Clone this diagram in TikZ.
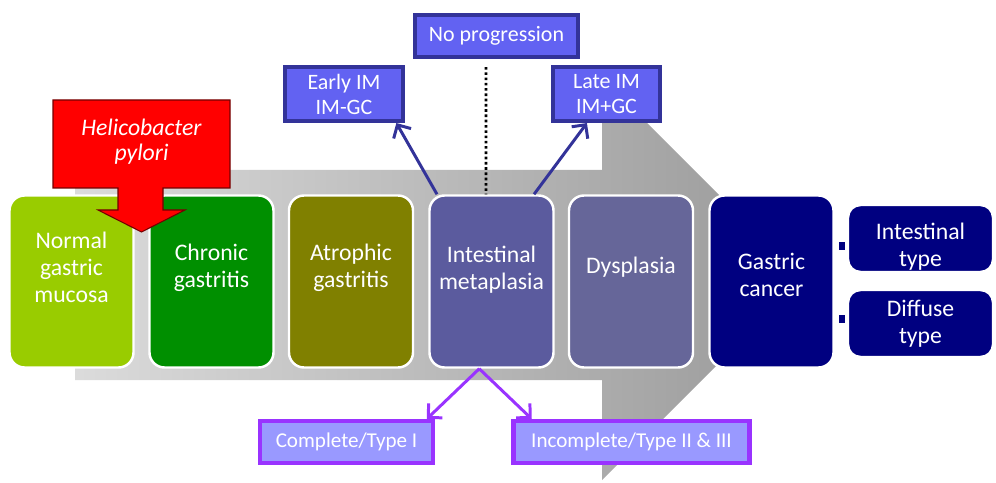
\documentclass[tikz,border=0pt]{standalone}
\usepackage{fontspec}
\setmainfont{Carlito}
\usetikzlibrary{arrows.meta}
\definecolor{normalgreen}{HTML}{99CC00}
\definecolor{chronicgreen}{HTML}{008F00}
\definecolor{atrophicolive}{HTML}{808000}
\definecolor{imviolet}{HTML}{5B5B9E}
\definecolor{dysblue}{HTML}{666699}
\definecolor{cancernavy}{HTML}{000080}
\definecolor{topfill}{HTML}{6262F2}
\definecolor{topline}{HTML}{333399}
\definecolor{botfill}{HTML}{9999FF}
\definecolor{botline}{HTML}{9933FF}
\begin{document}
\begin{tikzpicture}[
    stage/.style={draw=white, line width=1.4pt, rounded corners=0.3cm,
        minimum width=2.48cm, minimum height=3.44cm, inner sep=0pt},
    stagetext/.style={text=white, align=center, yshift=0.28cm,
        font=\fontsize{13.5}{15.3}\selectfont},
    typebox/.style={draw=white, fill=cancernavy, line width=1.4pt, rounded corners=0.25cm,
        minimum width=2.9cm, minimum height=1.34cm, inner sep=0pt},
    typetext/.style={text=white, align=center, font=\fontsize{13.5}{15.3}\selectfont},
    topbox/.style={draw=topline, fill=topfill, line width=2.3pt, text=white, align=center,
        inner sep=0pt, font=\fontsize{12.5}{14.2}\selectfont},
    botbox/.style={draw=botline, fill=botfill, line width=2.3pt, text=white, align=center,
        inner sep=0pt, minimum height=0.84cm, font=\fontsize{12}{14}\selectfont},
    imarrow/.style={draw=topline, line width=1.7pt, -{Straight Barb[length=2mm,width=4mm]}},
    typearrow/.style={draw=botline, line width=1.7pt, -{Straight Barb[length=2mm,width=4mm]}}
]
    \useasboundingbox (0,0) rectangle (19.92,9.64);
    % big gray arrow
    \shade[left color=gray!28, right color=gray!80!white] (1.50,6.24) -- (12.04,6.24) -- (12.04,8.08)
        -- (16.06,4.06) -- (12.04,0.04) -- (12.04,2.04) -- (1.50,2.04) -- cycle;
    % stages
    \node[stage, fill=normalgreen, label={[stagetext]center:Normal\\gastric\\mucosa}] (normal) at (1.43,4.01) {};
    \node[stage, fill=chronicgreen, label={[stagetext]center:Chronic\\gastritis}] (chronic) at (4.23,4.01) {};
    \node[stage, fill=atrophicolive, label={[stagetext]center:Atrophic\\gastritis}] (atrophic) at (7.02,4.01) {};
    \node[stage, fill=imviolet, label={[stagetext, yshift=-0.05cm]center:Intestinal\\metaplasia}] (im) at (9.83,4.01) {};
    \node[stage, fill=dysblue, label={[stagetext]center:Dysplasia}] (dys) at (12.62,4.01) {};
    \node[stage, fill=cancernavy, label={[stagetext, yshift=-0.14cm]center:Gastric\\cancer}] (cancer) at (15.43,4.01) {};
    % cancer types
    \node[typebox, label={[typetext, yshift=-0.17cm]center:Intestinal\\type}] (inttype) at (18.41,4.87) {};
    \node[typebox, label={[typetext]center:Diffuse\\type}] (diftype) at (18.41,3.17) {};
    \node[fill=cancernavy, minimum width=0.12cm, minimum height=0.16cm, inner sep=0pt] (sqint) at (16.84,4.71) {};
    \node[fill=cancernavy, minimum width=0.12cm, minimum height=0.16cm, inner sep=0pt] (sqdif) at (16.84,3.25) {};
    % Helicobacter pylori
    \draw[fill=red, draw=red!45!black, line width=0.6pt] (1.06,7.64) -- (4.60,7.64) -- (4.60,5.88)
        -- (3.26,5.88) -- (3.26,5.44) -- (3.70,5.44) -- (2.83,5.00) -- (1.96,5.44) -- (2.36,5.44)
        -- (2.36,5.88) -- (1.06,5.88) -- cycle;
    \node[text=white, align=center, font=\fontsize{13.5}{14.2}\selectfont\itshape] (hp) at (2.83,6.80) {Helicobacter\\pylori};
    % progression
    \node[topbox, minimum width=3.26cm, minimum height=0.84cm] (noprog) at (9.93,8.92) {No progression};
    \node[topbox, minimum width=2.36cm, minimum height=1.08cm] (early) at (6.88,7.76) {Early IM\\IM-GC};
    \node[topbox, minimum width=2.14cm, minimum height=1.08cm] (late) at (12.13,7.76) {Late IM\\IM+GC};
    \draw[line width=1.6pt, dash pattern=on 1.5pt off 1.5pt] ([xshift=-0.21cm, yshift=-0.16cm]noprog.south) -- ([xshift=-0.11cm]im.north);
    \draw[imarrow] (im.122) -- (early.-29);
    \draw[imarrow] (im.64) -- (late.236);
    % IM types
    \node[botbox, minimum width=3.46cm] (complete) at (6.93,0.80) {Complete/Type I};
    \node[botbox, minimum width=4.72cm] (incomplete) at (12.63,0.80) {Incomplete/Type II \& III};
    \draw[typearrow] (im.-98) -- (complete.16);
    \draw[typearrow] (im.-98) -- (incomplete.167);
\end{tikzpicture}
\end{document}
